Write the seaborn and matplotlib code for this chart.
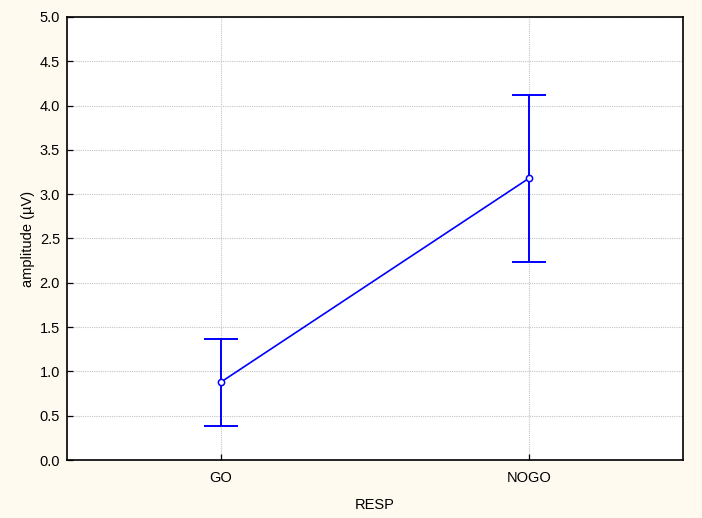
import matplotlib
matplotlib.use("Agg")
import matplotlib.pyplot as plt
import seaborn as sns
import pandas as pd

# Condition means and their confidence limits (µV)
conditions = ["GO", "NOGO"]
means = [0.88, 3.18]
upper = [1.37, 4.12]
lower = [0.38, 2.235]

sns.set_theme(style="white")
plt.rcParams["font.family"] = ["Liberation Sans", "DejaVu Sans"]

df = pd.DataFrame({"RESP": conditions, "amplitude": means})

fig = plt.figure(figsize=(7.02, 5.18), dpi=100, facecolor="#FFFAF0")
ax = fig.add_axes([67 / 702, 1 - 460 / 518, 616 / 702, 443 / 518])
ax.set_facecolor("white")

sns.pointplot(data=df, x="RESP", y="amplitude", color="#0000FF",
              errorbar=None, markers="o", linewidth=1.2,
              markersize=4.5, ax=ax, zorder=3)
for coll in ax.collections:
    coll.set_facecolor("white")
for line in ax.lines:
    line.set_markerfacecolor("white")
    line.set_markeredgewidth(1.1)

xpos = list(range(len(conditions)))
yerr = [[m - lo for m, lo in zip(means, lower)],
        [hi - m for m, hi in zip(means, upper)]]
ax.errorbar(xpos, means, yerr=yerr, fmt="none", ecolor="#0000FF",
            elinewidth=1.4, capsize=12, capthick=1.4, zorder=2)

ax.set_xlim(-0.5, 1.5)
ax.set_ylim(0, 5)
ax.set_yticks([i * 0.5 for i in range(11)])
ax.set_yticklabels([f"{i * 0.5:.1f}" for i in range(11)])
ax.set_xticks(xpos)
ax.set_xticklabels(conditions)

ax.grid(True, axis="both", color="#c4c4c4", linestyle=(0, (1, 1)), linewidth=0.8)
ax.set_axisbelow(True)

for s in ax.spines.values():
    s.set_color("black")
    s.set_linewidth(1.2)

ax.tick_params(axis="both", direction="in", length=4, width=0.9,
               colors="black", labelsize=10.5, left=True, bottom=True)
ax.tick_params(axis="y", pad=5)
ax.tick_params(axis="x", pad=8)
ax.set_xlabel("RESP", fontsize=10.5, labelpad=9, color="black")
ax.set_ylabel("amplitude (\u00b5V)", fontsize=10.5, labelpad=3, color="black")

fig.savefig("out.png", dpi=100, facecolor=fig.get_facecolor())
